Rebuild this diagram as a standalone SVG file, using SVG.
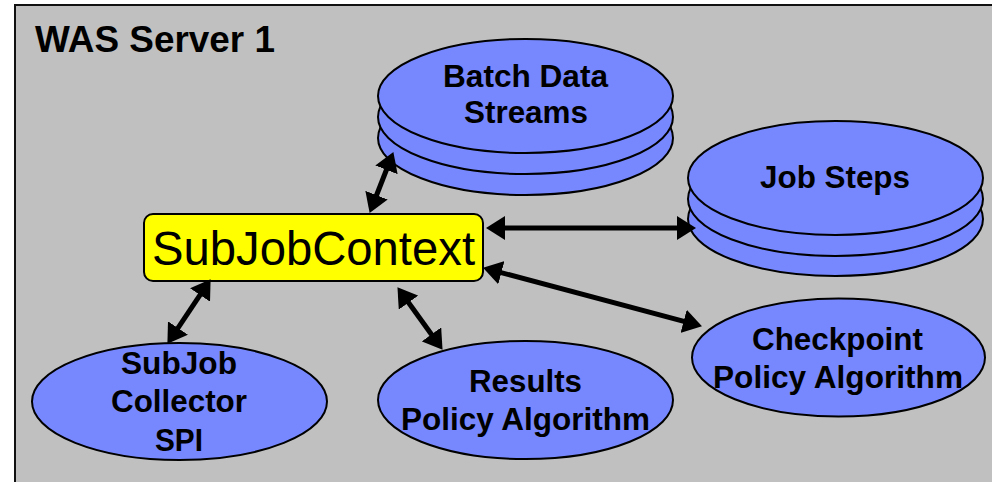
<svg xmlns="http://www.w3.org/2000/svg" width="992" height="482" viewBox="0 0 992 482">
  <style>
    .frame { fill: #c0c0c0; stroke: #111; stroke-width: 2; }
    .disk { fill: #7788ff; stroke: #000; stroke-width: 2; }
    .ctx { fill: #ffff00; stroke: #000; stroke-width: 2; }
    .lbl { font-family: "Liberation Sans", Arial, sans-serif; font-weight: bold; font-size: 30.5px; fill: #000; text-anchor: middle; }
    .title { font-family: "Liberation Sans", Arial, sans-serif; font-weight: bold; font-size: 37px; fill: #000; }
    .ctxtext { font-family: "Liberation Sans", Arial, sans-serif; font-size: 48px; fill: #000; text-anchor: middle; }
    .link { stroke: #000; stroke-width: 5; fill: none; marker-start: url(#head); marker-end: url(#head); }
  </style>
  <defs>
    <marker id="head" viewBox="0 0 19 24" refX="10" refY="12" markerWidth="19" markerHeight="24" markerUnits="userSpaceOnUse" orient="auto-start-reverse">
      <path d="M0,0 L19,12 L0,24 z" fill="#000"/>
    </marker>
  </defs>

  <rect width="992" height="482" fill="#ffffff"/>

  <!-- server boundary -->
  <g id="server">
    <rect class="frame" x="15" y="5" width="990" height="500"/>
    <text class="title" x="35" y="52" textLength="240" lengthAdjust="spacingAndGlyphs">WAS Server 1</text>
  </g>

  <!-- stacked data stores -->
  <g id="batch-data-streams">
    <ellipse class="disk" cx="525.5" cy="138" rx="147.5" ry="57"/>
    <ellipse class="disk" cx="525.5" cy="117" rx="147.5" ry="57"/>
    <ellipse class="disk" cx="525.5" cy="96" rx="147.5" ry="57"/>
    <text class="lbl" x="525.5" y="87" textLength="165" lengthAdjust="spacingAndGlyphs">Batch Data</text>
    <text class="lbl" x="526" y="123" textLength="124" lengthAdjust="spacingAndGlyphs">Streams</text>
  </g>

  <g id="job-steps">
    <ellipse class="disk" cx="835.5" cy="219" rx="147.5" ry="57"/>
    <ellipse class="disk" cx="835.5" cy="199" rx="147.5" ry="57"/>
    <ellipse class="disk" cx="835.5" cy="178" rx="147.5" ry="57"/>
    <text class="lbl" x="835" y="188" textLength="150" lengthAdjust="spacingAndGlyphs">Job Steps</text>
  </g>

  <!-- central context -->
  <g id="subjobcontext">
    <rect class="ctx" x="144" y="214" width="339" height="67" rx="9" ry="9"/>
    <text class="ctxtext" x="313.5" y="265" textLength="323" lengthAdjust="spacingAndGlyphs">SubJobContext</text>
  </g>

  <!-- plug-in components -->
  <g id="subjob-collector-spi">
    <ellipse class="disk" cx="179.5" cy="401.5" rx="147.5" ry="58.5"/>
    <text class="lbl" x="179" y="374" textLength="116" lengthAdjust="spacingAndGlyphs">SubJob</text>
    <text class="lbl" x="179" y="412" textLength="136" lengthAdjust="spacingAndGlyphs">Collector</text>
    <text class="lbl" x="179" y="451" textLength="48" lengthAdjust="spacingAndGlyphs">SPI</text>
  </g>

  <g id="results-policy-algorithm">
    <ellipse class="disk" cx="525.5" cy="400" rx="147.5" ry="59"/>
    <text class="lbl" x="525.5" y="392" textLength="113" lengthAdjust="spacingAndGlyphs">Results</text>
    <text class="lbl" x="525.5" y="430" textLength="249" lengthAdjust="spacingAndGlyphs">Policy Algorithm</text>
  </g>

  <g id="checkpoint-policy-algorithm">
    <ellipse class="disk" cx="838.5" cy="357.5" rx="146.5" ry="59"/>
    <text class="lbl" x="837.5" y="350" textLength="171" lengthAdjust="spacingAndGlyphs">Checkpoint</text>
    <text class="lbl" x="838" y="388" textLength="250" lengthAdjust="spacingAndGlyphs">Policy Algorithm</text>
  </g>

  <!-- two-way links -->
  <g id="connectors">
    <line class="link" x1="372.9" y1="204.5" x2="390.1" y2="160.5"/>
    <line class="link" x1="495" y1="228" x2="687" y2="228"/>
    <line class="link" x1="205.6" y1="286.7" x2="172.4" y2="336.3"/>
    <line class="link" x1="402.7" y1="294.5" x2="437.3" y2="342.5"/>
    <line class="link" x1="491.7" y1="270.1" x2="693.3" y2="323.9"/>
  </g>
</svg>
